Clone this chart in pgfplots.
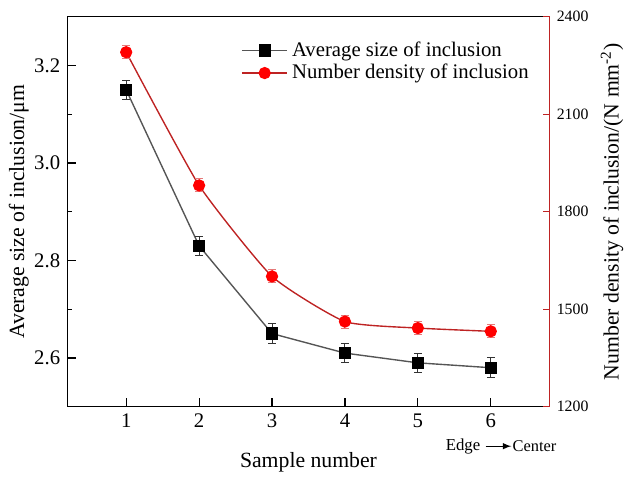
\documentclass[border=0pt]{standalone}
\usepackage{fontspec}
\setmainfont{Liberation Serif}
\usepackage{pgfplots}
\pgfplotsset{compat=1.18}
\definecolor{redline}{RGB}{190,35,35}
\definecolor{rederr}{RGB}{230,120,120}
\definecolor{grayline}{RGB}{85,85,85}
\begin{document}
\begin{tikzpicture}
\begin{axis}[
  scale only axis, width=244.5pt, height=197.5pt,
  xmin=0.19, xmax=6.81, ymin=2.5, ymax=3.3,
  xtick={1,2,3,4,5,6}, ytick={2.6,2.8,3.0,3.2}, minor ytick={2.7,2.9,3.1},
  yticklabel style={/pgf/number format/fixed, /pgf/number format/fixed zerofill, /pgf/number format/precision=1},
  xtick pos=bottom, ytick pos=left,
  tick align=inside, major tick length=4.5pt, minor tick length=2.5pt,
  every tick/.style={black, line width=0.6pt},
  /pgf/number format/assume math mode=true,
  tick label style={font=\fontsize{10.5}{12}\selectfont},
  xlabel={Sample number}, ylabel={Average size of inclusion/μm},
  label style={font=\fontsize{11}{13}\selectfont},
  xlabel style={at={(axis description cs:0.5,-0.142)}, anchor=center},
  ylabel style={at={(axis description cs:-0.1,0.5)}, anchor=center},
  axis line style={line width=0.6pt},
  legend style={draw=none, fill=none, at={(0.36,0.947)}, anchor=north west,
    font=\fontsize{10.5}{12}\selectfont, row sep=-1.5pt, inner sep=0pt},
  legend cell align=left,
  legend image code/.code={\draw[mark repeat=2,mark phase=2,#1] plot coordinates {(0pt,0pt) (11.5pt,0pt) (23pt,0pt)};},
  clip=false,
]
\addplot[grayline, line width=0.7pt, mark=square*, mark size=2.75pt,
  mark options={black, solid},
  error bars/.cd, y dir=both, y explicit,
  error bar style={black!80, line width=0.5pt},
  error mark options={rotate=90, mark size=2pt, black!80, line width=0.5pt}]
  table[x=x, y=y, y error=e] {
x y e
1 3.15 0.02
2 2.83 0.02
3 2.65 0.02
4 2.61 0.02
5 2.59 0.02
6 2.58 0.02
};
\addlegendentry{Average size of inclusion}
\addlegendimage{redline, line width=0.7pt, mark=*, mark size=2.75pt, mark options={red, solid}}
\addlegendentry{Number density of inclusion}
\node[font=\fontsize{8.5}{9}\selectfont, anchor=center, inner sep=2.5pt] (edge) at (axis cs:5.62,2.5) [yshift=-20pt] {Edge};
\node[font=\fontsize{8.3}{9}\selectfont, anchor=center, inner sep=0.5pt] (center) at (axis cs:6.6,2.5) [yshift=-20pt] {Center};
\draw[-latex, line width=0.5pt] (edge.east) -- (center.west);
\end{axis}
\begin{axis}[
  scale only axis, width=244.5pt, height=197.5pt,
  xmin=0.19, xmax=6.81, ymin=1200, ymax=2400,
  axis y line*=right, axis x line=none,
  ytick={1200,1500,1800,2100,2400},
  tick align=inside, major tick length=3.5pt,
  every tick/.style={redline, line width=0.6pt},
  y axis line style={redline, line width=0.6pt},
  /pgf/number format/assume math mode=true,
  yticklabel style={font=\fontsize{8}{10}\selectfont, /pgf/number format/1000 sep={}},
  ylabel={Number density of inclusion/(N mm\textsuperscript{-2})},
  label style={font=\fontsize{11}{13}\selectfont},
  ylabel style={at={(axis description cs:1.129,0.5)}, anchor=center, rotate=0},
  clip=false,
]
\addplot[redline, line width=0.7pt, smooth, tension=0.3, mark=*, mark size=2.75pt,
  mark options={red, solid},
  error bars/.cd, y dir=both, y explicit,
  error bar style={rederr, line width=0.5pt},
  error mark options={rotate=90, mark size=2pt, rederr, line width=0.5pt}]
  table[x=x, y=y, y error=e] {
x y e
1 2291 20
2 1881 20
3 1601 20
4 1462 20
5 1442 20
6 1432 20
};
\path (rel axis cs:0,0) ++(-34pt,-33.5pt) coordinate (bbsw);
\path (rel axis cs:1,1) ++(36.5pt,8.5pt) coordinate (bbne);
\path (bbsw) rectangle (bbne);
\end{axis}
\end{tikzpicture}
\end{document}
